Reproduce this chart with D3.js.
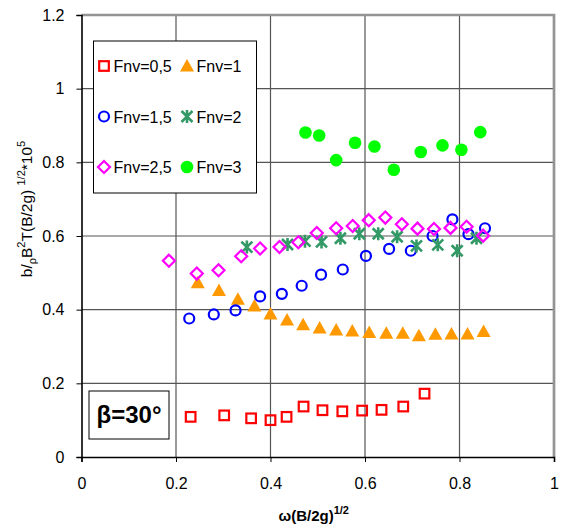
<!DOCTYPE html>
<html lang="en">
<head>
  <meta charset="utf-8">
  <title>beta 30</title>
  <script src="https://d3js.org/d3.v7.min.js"></script>
  <style>
    body { margin: 0; background: #fff; }
    svg { font-family: Arial, "Liberation Sans", sans-serif; }
    .axis text { font-size: 16px; fill: #000; }
    .grid line { stroke: #555; stroke-width: 1.2; }
  </style>
</head>
<body>
<svg width="565" height="527"></svg>
<script>

// values
var fnv05X = [0.231,0.302,0.359,0.400,0.434,0.470,0.510,0.552,0.594,0.635,0.681,0.726];
var fnv05Y = [0.109,0.113,0.105,0.100,0.109,0.137,0.127,0.124,0.126,0.128,0.137,0.172];

var fnv1X = [0.246,0.291,0.331,0.366,0.400,0.435,0.469,0.504,0.539,0.573,0.609,0.645,0.680,0.714,0.749,0.783,0.817,0.851];
var fnv1Y = [0.473,0.452,0.428,0.410,0.388,0.372,0.359,0.350,0.345,0.342,0.338,0.336,0.336,0.329,0.333,0.334,0.334,0.341];

var fnv15X = [0.228,0.280,0.326,0.378,0.424,0.466,0.507,0.553,0.602,0.651,0.697,0.743,0.785,0.819,0.854];
var fnv15Y = [0.376,0.387,0.398,0.436,0.443,0.465,0.495,0.509,0.546,0.565,0.560,0.600,0.645,0.605,0.621];

var fnv2X = [0.350,0.436,0.473,0.508,0.548,0.588,0.628,0.668,0.709,0.754,0.795,0.836];
var fnv2Y = [0.570,0.577,0.586,0.584,0.594,0.606,0.606,0.598,0.573,0.576,0.560,0.594];

var fnv25X = [0.185,0.244,0.290,0.338,0.378,0.419,0.459,0.498,0.539,0.574,0.608,0.643,0.678,0.711,0.746,0.781,0.815,0.850];
var fnv25Y = [0.533,0.498,0.507,0.545,0.566,0.570,0.583,0.608,0.621,0.627,0.643,0.650,0.632,0.620,0.619,0.622,0.625,0.601];

var fnv3X = [0.474,0.503,0.539,0.579,0.620,0.661,0.718,0.764,0.804,0.844];
var fnv3Y = [0.881,0.873,0.806,0.853,0.843,0.780,0.828,0.846,0.834,0.882];

var xTicks = [0, 0.2, 0.4, 0.6, 0.8, 1];
var yTicks = [0, 0.2, 0.4, 0.6, 0.8, 1, 1.2];

var seriesNames = ["Fnv=0,5", "Fnv=1", "Fnv=1,5", "Fnv=2", "Fnv=2,5", "Fnv=3"];
var seriesColors = ["#ff0000", "#ff9900", "#0000ff", "#339966", "#ff00ff", "#00ff00"];
var seriesShapes = ["square", "triangle", "circle", "star", "diamond", "dot"];

var series = [
  {x: fnv05X, y: fnv05Y},
  {x: fnv1X, y: fnv1Y},
  {x: fnv15X, y: fnv15Y},
  {x: fnv2X, y: fnv2Y},
  {x: fnv25X, y: fnv25Y},
  {x: fnv3X, y: fnv3Y}
].map(function(s, i) {
  return {
    name: seriesNames[i], color: seriesColors[i], shape: seriesShapes[i],
    points: s.x.map(function(v, j) { return {x: v, y: s.y[j]}; })
  };
});

var svg = d3.select("svg"),
    margin = {top: 15, right: 11, bottom: 70, left: 81.5},
    width = 565 - margin.left - margin.right,
    height = 527 - margin.top - margin.bottom;

var x = d3.scaleLinear().domain([0, 1]).range([0, width]);
var y = d3.scaleLinear().domain([0, 1.2]).range([height, 0]);

var g = svg.append("g")
    .attr("transform", "translate(" + margin.left + "," + margin.top + ")");

// grid
var grid = g.append("g").attr("class", "grid");
grid.selectAll(".gx").data(xTicks.slice(1, -1)).enter().append("line")
    .attr("x1", function(d) { return x(d); }).attr("x2", function(d) { return x(d); })
    .attr("y1", 0).attr("y2", height);
grid.selectAll(".gy").data(yTicks.slice(1, -1)).enter().append("line")
    .attr("y1", function(d) { return y(d); }).attr("y2", function(d) { return y(d); })
    .attr("x1", 0).attr("x2", width);

// plot frame (top and right in grey)
g.append("path")
    .attr("d", "M0,0H" + width + "V" + height)
    .attr("fill", "none").attr("stroke", "#949494").attr("stroke-width", 2.7);

// axes
g.append("g")
    .attr("class", "axis")
    .attr("transform", "translate(0," + height + ")")
    .call(d3.axisBottom(x).tickValues(xTicks).tickFormat(d3.format("")).tickSize(5).tickPadding(16))
    .call(function(a) {
      a.select(".domain").attr("stroke", "#000").attr("stroke-width", 1.6);
      a.selectAll(".tick line").attr("stroke", "#000");
    });

g.append("g")
    .attr("class", "axis")
    .call(d3.axisLeft(y).tickValues(yTicks).tickFormat(d3.format("")).tickSize(5).tickPadding(12))
    .call(function(a) {
      a.select(".domain").attr("stroke", "#000").attr("stroke-width", 1.6);
      a.selectAll(".tick line").attr("stroke", "#000");
    });

// markers
function drawMarker(sel, shape, color) {
  if (shape === "square") {
    sel.append("rect").attr("x", -4.8).attr("y", -4.8).attr("width", 9.6).attr("height", 9.6)
      .attr("fill", "none").attr("stroke", color).attr("stroke-width", 2.2);
  } else if (shape === "triangle") {
    sel.append("path").attr("d", "M0,-7L7,5.5L-7,5.5Z").attr("fill", color);
  } else if (shape === "circle") {
    sel.append("circle").attr("r", 5).attr("fill", "none").attr("stroke", color).attr("stroke-width", 2.2);
  } else if (shape === "star") {
    sel.append("path").attr("d", "M0,-6.5V6.5M-5.5,-5.5L5.5,5.5M-5.5,5.5L5.5,-5.5")
      .attr("fill", "none").attr("stroke", color).attr("stroke-width", 2.6);
  } else if (shape === "diamond") {
    sel.append("path").attr("d", "M0,-6L6,0L0,6L-6,0Z")
      .attr("fill", "none").attr("stroke", color).attr("stroke-width", 2.2);
  } else if (shape === "dot") {
    sel.append("circle").attr("r", 6.3).attr("fill", color);
  }
}

series.forEach(function(s) {
  g.append("g").selectAll("g").data(s.points).enter().append("g")
      .attr("transform", function(d) { return "translate(" + x(d.x) + "," + y(d.y) + ")"; })
      .each(function() { drawMarker(d3.select(this), s.shape, s.color); });
});

// legend
var legend = svg.append("g").attr("transform", "translate(93.5,41)");
legend.append("rect").attr("width", 163).attr("height", 152)
    .attr("fill", "#fff").attr("stroke", "#000").attr("stroke-width", 1);
series.forEach(function(s, i) {
  var col = i % 2, row = Math.floor(i / 2);
  var item = legend.append("g")
      .attr("transform", "translate(" + (10.5 + col * 83) + "," + (25 + row * 50.5) + ")");
  drawMarker(item, s.shape, s.color);
  item.append("text").attr("x", 9.5).attr("y", 6).attr("font-size", 16).text(s.name);
});

// beta box
var beta = svg.append("g").attr("transform", "translate(89,391)");
beta.append("rect").attr("width", 80).attr("height", 48)
    .attr("fill", "#fff").attr("stroke", "#000").attr("stroke-width", 1);
beta.append("text").attr("x", 40).attr("y", 32).attr("text-anchor", "middle")
    .attr("font-size", 24).attr("font-weight", "bold").text("β=30°");

// x title
var xt = svg.append("text")
    .attr("x", margin.left + width / 2 - 4).attr("y", 521)
    .attr("text-anchor", "middle").attr("font-size", 15).attr("font-weight", "bold");
xt.append("tspan").text("ω(B/2g)");
xt.append("tspan").attr("dy", -7).attr("font-size", 11).text("1/2");

// y title
var yt = svg.append("text")
    .attr("transform", "translate(32,209) rotate(-90)")
    .attr("text-anchor", "middle").attr("font-size", 15.5);
yt.append("tspan").text("b/");
yt.append("tspan").attr("dy", 4).attr("font-size", 11).text("ρ");
yt.append("tspan").attr("dy", -4).text("B");
yt.append("tspan").attr("dy", -7).attr("font-size", 11).text("2");
yt.append("tspan").attr("dy", 7).text("T(B/2g) ");
yt.append("tspan").attr("dy", -7).attr("font-size", 11).text("1/2");
yt.append("tspan").attr("dy", 7).text("*10");
yt.append("tspan").attr("dy", -7).attr("font-size", 11).text("5");

</script>
</body>
</html>
